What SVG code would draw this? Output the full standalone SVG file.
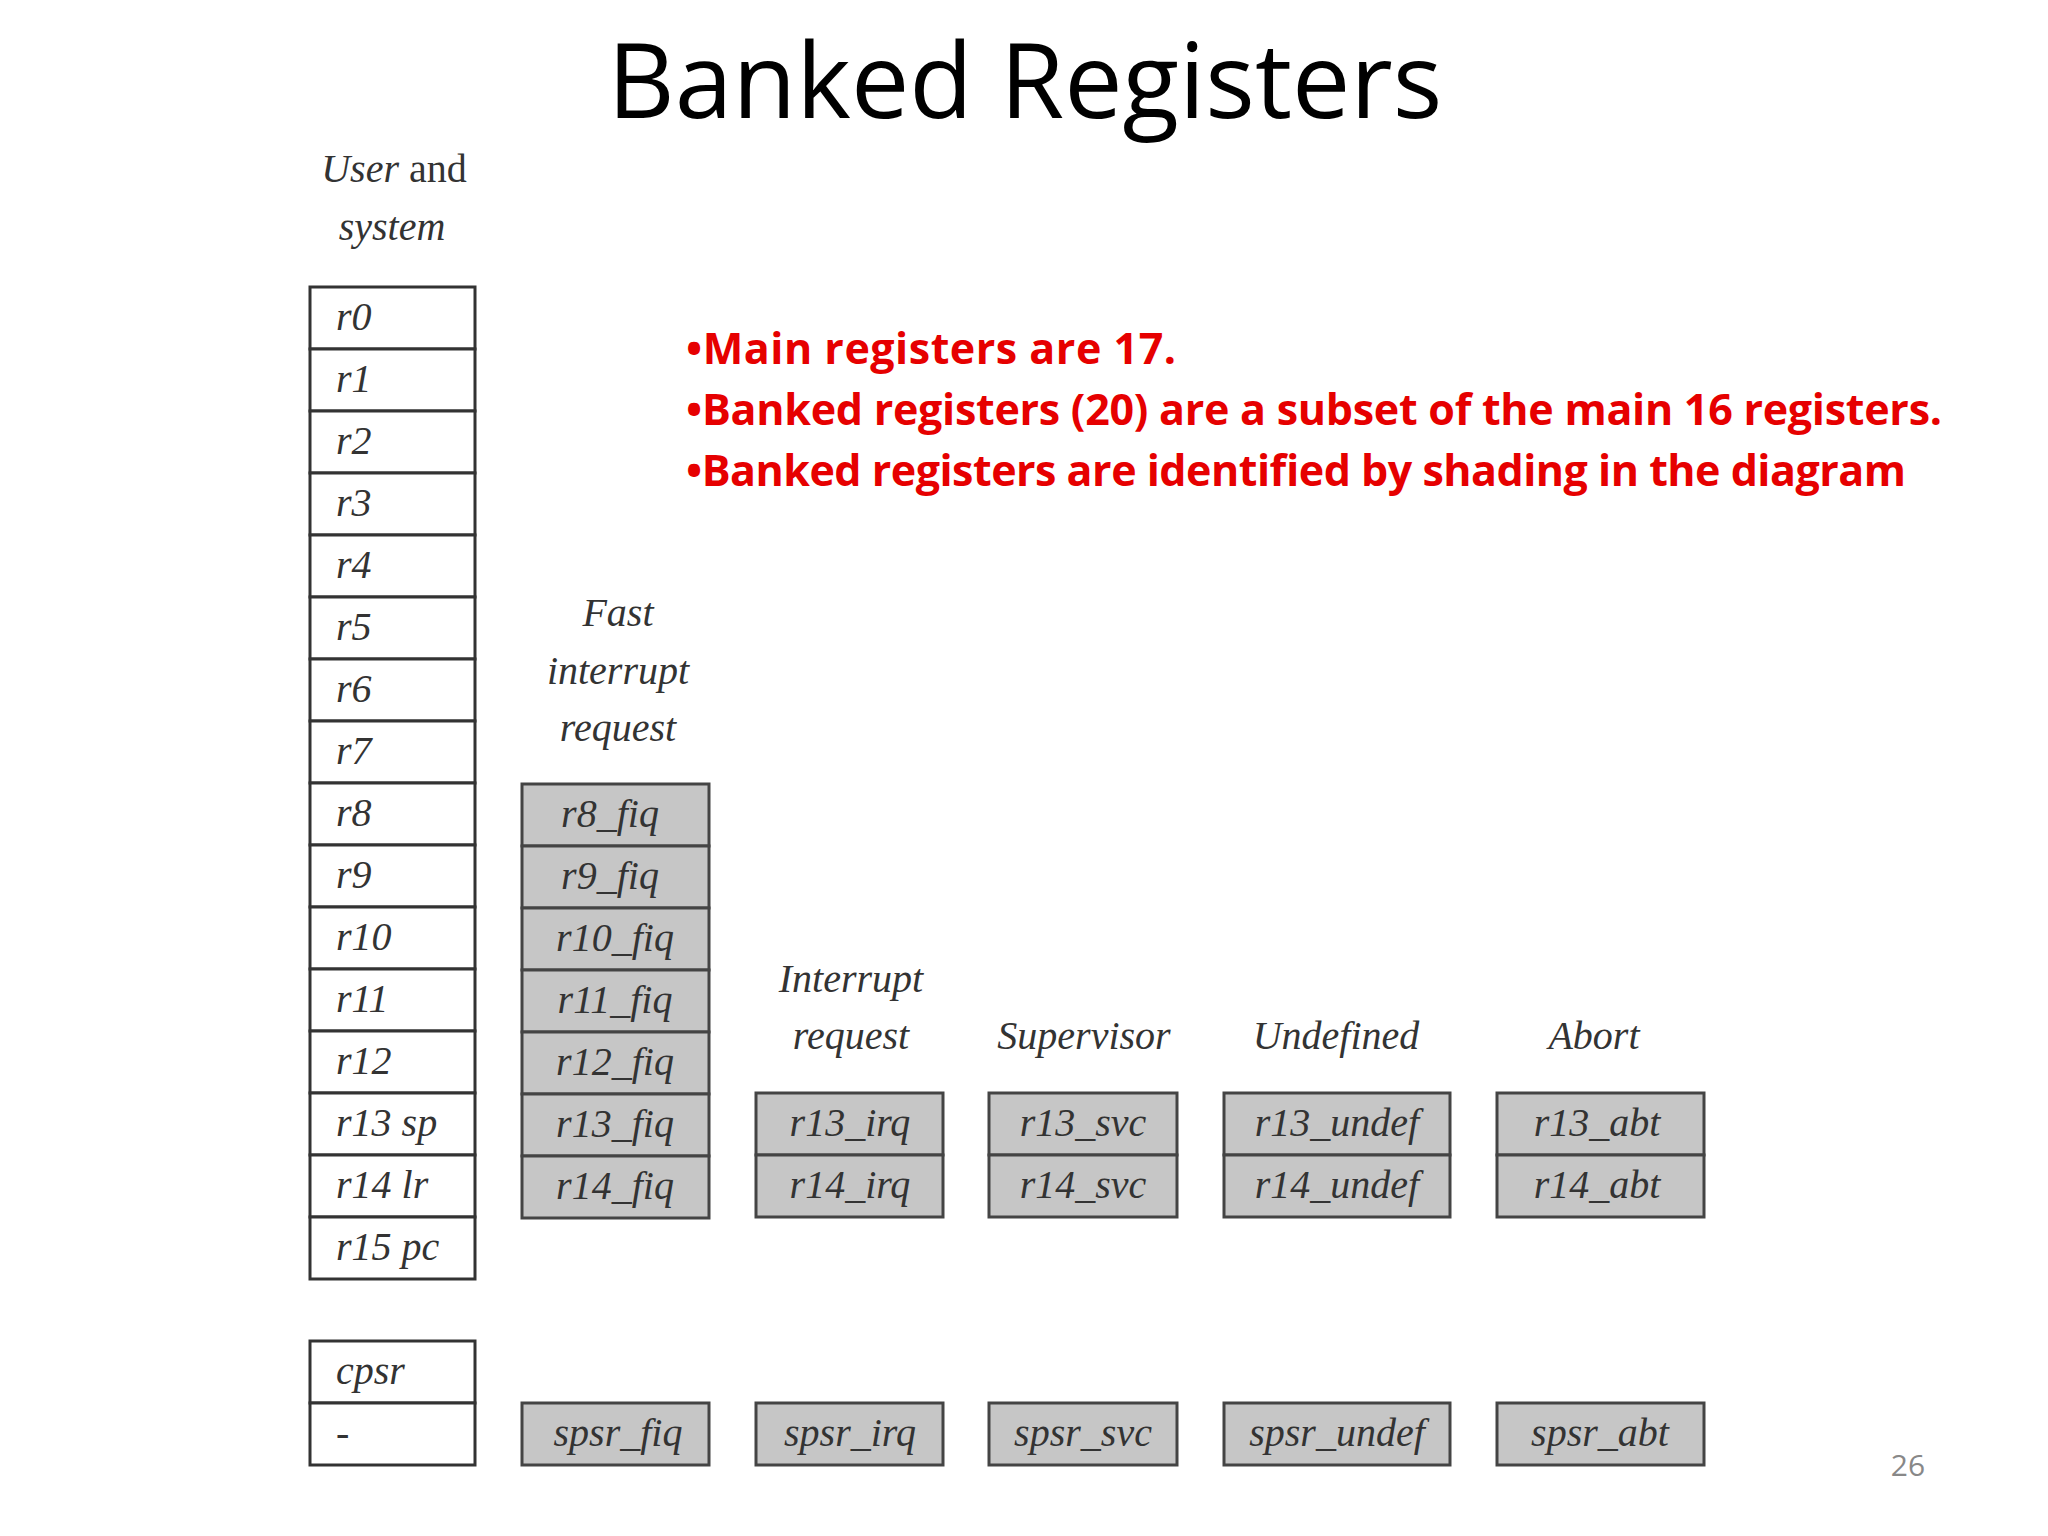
<svg xmlns="http://www.w3.org/2000/svg" width="2048" height="1536" viewBox="0 0 2048 1536">
<style>
.w{fill:#fff;stroke:#333;stroke-width:3}
.g{fill:#c6c6c6;stroke:#444;stroke-width:3}
.r{font-family:"Liberation Serif",serif;font-style:italic;font-size:40px;fill:#333}
.c{font-family:"Liberation Serif",serif;font-style:italic;font-size:40px;fill:#333;text-anchor:middle}
.b{font-family:"Open Sans","Noto Sans",sans-serif;font-weight:bold;font-size:43px;fill:#e60000}
</style>
<rect width="2048" height="1536" fill="#fff"/>
<text x="1025" y="118" text-anchor="middle" font-family="'Open Sans','Noto Sans',sans-serif" font-size="104" fill="#000">Banked Registers</text>
<g id="notes">
<text class="b" x="686" y="364" textLength="490">•Main registers are  17.</text>
<text class="b" x="686" y="425" textLength="1256">•Banked registers (20) are a subset of the main 16 registers.</text>
<text class="b" x="686" y="486" textLength="1220">•Banked registers are identified by shading in the diagram</text>
</g>
<g id="user">
<text class="c" x="394" y="182">User <tspan font-style="normal">and</tspan></text>
<text class="c" x="392" y="240">system</text>
<rect class="w" x="310" y="287" width="165" height="62"/><text class="r" x="336" y="330">r0</text>
<rect class="w" x="310" y="349" width="165" height="62"/><text class="r" x="336" y="392">r1</text>
<rect class="w" x="310" y="411" width="165" height="62"/><text class="r" x="336" y="454">r2</text>
<rect class="w" x="310" y="473" width="165" height="62"/><text class="r" x="336" y="516">r3</text>
<rect class="w" x="310" y="535" width="165" height="62"/><text class="r" x="336" y="578">r4</text>
<rect class="w" x="310" y="597" width="165" height="62"/><text class="r" x="336" y="640">r5</text>
<rect class="w" x="310" y="659" width="165" height="62"/><text class="r" x="336" y="702">r6</text>
<rect class="w" x="310" y="721" width="165" height="62"/><text class="r" x="336" y="764">r7</text>
<rect class="w" x="310" y="783" width="165" height="62"/><text class="r" x="336" y="826">r8</text>
<rect class="w" x="310" y="845" width="165" height="62"/><text class="r" x="336" y="888">r9</text>
<rect class="w" x="310" y="907" width="165" height="62"/><text class="r" x="336" y="950">r10</text>
<rect class="w" x="310" y="969" width="165" height="62"/><text class="r" x="336" y="1012">r11</text>
<rect class="w" x="310" y="1031" width="165" height="62"/><text class="r" x="336" y="1074">r12</text>
<rect class="w" x="310" y="1093" width="165" height="62"/><text class="r" x="336" y="1136">r13 sp</text>
<rect class="w" x="310" y="1155" width="165" height="62"/><text class="r" x="336" y="1198">r14 lr</text>
<rect class="w" x="310" y="1217" width="165" height="62"/><text class="r" x="336" y="1260">r15 pc</text>
<rect class="w" x="310" y="1341" width="165" height="62"/><text class="r" x="336" y="1384">cpsr</text>
<rect class="w" x="310" y="1403" width="165" height="62"/><text class="r" x="336" y="1446">-</text>
</g>
<g id="fiq">
<text class="c" x="618" y="626">Fast</text>
<text class="c" x="618" y="684">interrupt</text>
<text class="c" x="618" y="741">request</text>
<rect class="g" x="522" y="784" width="187" height="62"/><text class="c" x="610" y="827">r8_fiq</text>
<rect class="g" x="522" y="846" width="187" height="62"/><text class="c" x="610" y="889">r9_fiq</text>
<rect class="g" x="522" y="908" width="187" height="62"/><text class="c" x="615" y="951">r10_fiq</text>
<rect class="g" x="522" y="970" width="187" height="62"/><text class="c" x="615" y="1013">r11_fiq</text>
<rect class="g" x="522" y="1032" width="187" height="62"/><text class="c" x="615" y="1075">r12_fiq</text>
<rect class="g" x="522" y="1094" width="187" height="62"/><text class="c" x="615" y="1137">r13_fiq</text>
<rect class="g" x="522" y="1156" width="187" height="62"/><text class="c" x="615" y="1199">r14_fiq</text>
<rect class="g" x="522" y="1403" width="187" height="62"/><text class="c" x="618" y="1446">spsr_fiq</text>
</g>
<g id="irq">
<text class="c" x="851" y="992">Interrupt</text>
<text class="c" x="851" y="1049">request</text>
<rect class="g" x="756" y="1093" width="187" height="62"/><text class="c" x="850" y="1136">r13_irq</text>
<rect class="g" x="756" y="1155" width="187" height="62"/><text class="c" x="850" y="1198">r14_irq</text>
<rect class="g" x="756" y="1403" width="187" height="62"/><text class="c" x="850" y="1446">spsr_irq</text>
</g>
<g id="svc">
<text class="c" x="1084" y="1049">Supervisor</text>
<rect class="g" x="989" y="1093" width="188" height="62"/><text class="c" x="1083" y="1136">r13_svc</text>
<rect class="g" x="989" y="1155" width="188" height="62"/><text class="c" x="1083" y="1198">r14_svc</text>
<rect class="g" x="989" y="1403" width="188" height="62"/><text class="c" x="1083" y="1446">spsr_svc</text>
</g>
<g id="undef">
<text class="c" x="1336" y="1049">Undefined</text>
<rect class="g" x="1224" y="1093" width="226" height="62"/><text class="c" x="1337" y="1136">r13_undef</text>
<rect class="g" x="1224" y="1155" width="226" height="62"/><text class="c" x="1337" y="1198">r14_undef</text>
<rect class="g" x="1224" y="1403" width="226" height="62"/><text class="c" x="1337" y="1446">spsr_undef</text>
</g>
<g id="abt">
<text class="c" x="1594" y="1049">Abort</text>
<rect class="g" x="1497" y="1093" width="207" height="62"/><text class="c" x="1597" y="1136">r13_abt</text>
<rect class="g" x="1497" y="1155" width="207" height="62"/><text class="c" x="1597" y="1198">r14_abt</text>
<rect class="g" x="1497" y="1403" width="207" height="62"/><text class="c" x="1600" y="1446">spsr_abt</text>
</g>
<g id="connectors"/>
<text x="1908" y="1476" text-anchor="middle" font-family="'Open Sans',sans-serif" font-size="30" fill="#888">26</text>
</svg>
